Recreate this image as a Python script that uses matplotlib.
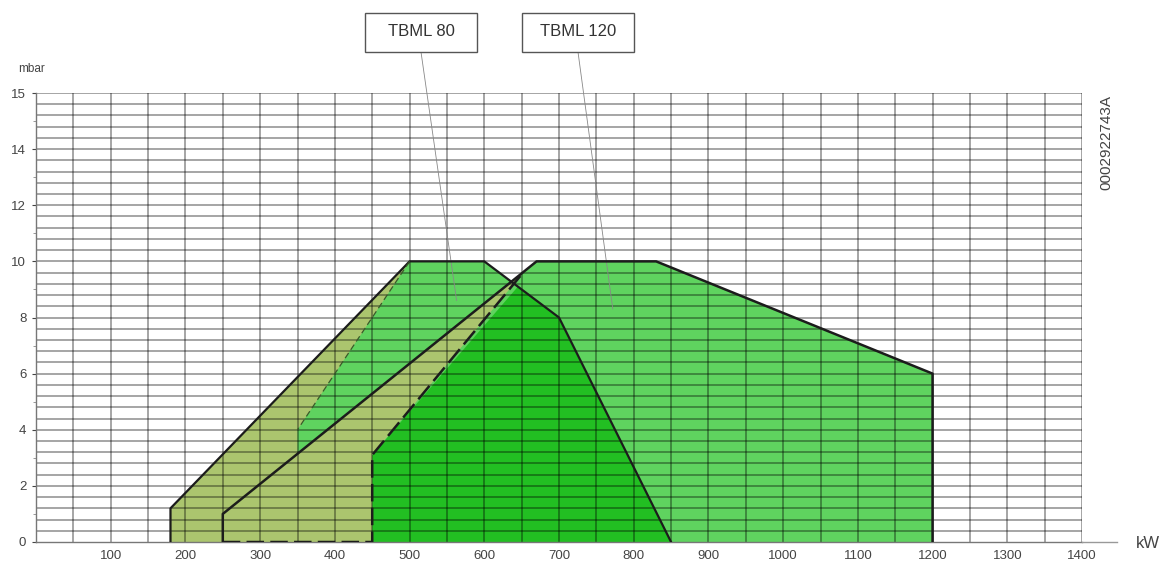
import matplotlib
matplotlib.use('Agg')
import matplotlib.pyplot as plt
from matplotlib.patches import Rectangle
import numpy as np

plt.rcParams['font.family'] = ['Liberation Sans', 'DejaVu Sans']

# working ranges (kW, mbar)
tbml80_x = [180, 180, 500, 600, 700, 850]
tbml80_y = [0, 1.2, 10, 10, 8, 0]
tbml120_x = [250, 250, 670, 830, 1200, 1200]
tbml120_y = [0, 1, 10, 10, 6, 0]

# low-pressure (khaki) zones
tbml80_low_x = [180, 180, 500, 350, 350]
tbml80_low_y = [0, 1.2, 10, 4, 0]
tbml120_low_x = [250, 250, 652, 450, 450]
tbml120_low_y = [0, 1, 9.6, 3.1, 0]

# overlap of both burners (dark green)
overlap_x = [450, 450, 645, 700, 850]
overlap_y = [0, 3.1, 9.1, 8, 0]

x_ticks = [100, 200, 300, 400, 500, 600, 700, 800, 900, 1000, 1100, 1200, 1300, 1400]
y_ticks = [0, 2, 4, 6, 8, 10, 12, 14, 16]
y_labels = ['0', '2', '4', '6', '8', '10', '12', '14', '15']

GREEN = '#5fd35f'
DARK = '#22bf22'
KHAKI = '#abc56e'
LINE = '#1c1c1c'

fig = plt.figure(figsize=(11.64, 5.66), dpi=100)
ax = fig.add_axes([36 / 1164, 24 / 566, 1046 / 1164, 449 / 566])
ax.set_xlim(0, 1400)
ax.set_ylim(0, 16)

ax.fill(tbml120_x, tbml120_y, color=GREEN, lw=0, zorder=1)
ax.fill(tbml80_x, tbml80_y, color=GREEN, lw=0, zorder=1)
ax.fill(overlap_x, overlap_y, color=DARK, lw=0, zorder=1.2)
ax.fill(tbml80_low_x, tbml80_low_y, color=KHAKI, lw=0, zorder=1.3)
ax.fill(tbml120_low_x, tbml120_low_y, color=KHAKI, lw=0, zorder=1.4)

# grid
for gx in np.arange(50, 1401, 50):
    ax.axvline(gx, color='black', lw=1.1, alpha=0.45, zorder=2)
for gy in np.arange(0.4, 16.01, 0.4):
    ax.axhline(gy, color='black', lw=1.1, alpha=0.45, zorder=2)

# outlines
ax.plot(tbml80_x, tbml80_y, color=LINE, lw=1.6, zorder=4)
ax.plot(tbml120_x, tbml120_y, color=LINE, lw=1.8, zorder=4)
ax.plot([tbml120_low_x[i] for i in (0, 4, 3, 2)], [tbml120_low_y[i] for i in (0, 4, 3, 2)],
        color=LINE, lw=1.8, ls=(0, (7, 2.5)), zorder=4)
ax.plot(tbml80_low_x[2:4], tbml80_low_y[2:4], color='#3a5a2a', lw=0.9, ls=(0, (5, 3)), zorder=4)

for s in ['top', 'right']:
    ax.spines[s].set_visible(False)
for s in ['left', 'bottom']:
    ax.spines[s].set_color('#777777')
    ax.spines[s].set_linewidth(1.0)
ax.plot([1400, 1447], [0, 0], color='#999999', lw=1.0, clip_on=False, zorder=3)

ax.set_xticks(x_ticks)
ax.set_xticklabels([str(v) for v in x_ticks])
ax.set_yticks(y_ticks)
ax.set_yticklabels(y_labels)
ax.set_yticks(range(1, 16, 2), minor=True)
ax.tick_params(axis='both', which='major', labelsize=9.5, colors='#444444', length=3, width=0.8, pad=4)
ax.tick_params(axis='y', which='minor', length=2, color='#888888')
ax.tick_params(axis='x', length=0, pad=6)

fig.text(32 / 1164, 1 - 69 / 566, 'mbar', fontsize=8.5, color='#444444', ha='center', va='center')
fig.text(1148 / 1164, 1 - 543 / 566, 'kW', fontsize=12, color='#444444', ha='center', va='center')
fig.text(1106 / 1164, 1 - 142 / 566, '0002922743A', fontsize=11, color='#444444',
         rotation=90, ha='center', va='center')

# label boxes with leader lines
labels = [('TBML 80', 365, (563, 8.6)), ('TBML 120', 522, (772, 8.3))]
for text, left, target in labels:
    fig.add_artist(Rectangle((left, 566 - 52), 112, 39, transform=None, fc='white',
                             ec='#555555', lw=1.0))
    fig.text((left + 56) / 1164, 1 - 32 / 566, text, fontsize=12, color='#333333',
             ha='center', va='center')
    ax.annotate('', xy=target, xycoords='data', xytext=(left + 56, 566 - 52),
                textcoords='figure pixels', annotation_clip=False,
                arrowprops=dict(arrowstyle='-', color='#888888', lw=0.6, shrinkA=0, shrinkB=0))

fig.savefig('out.png', dpi=100)
